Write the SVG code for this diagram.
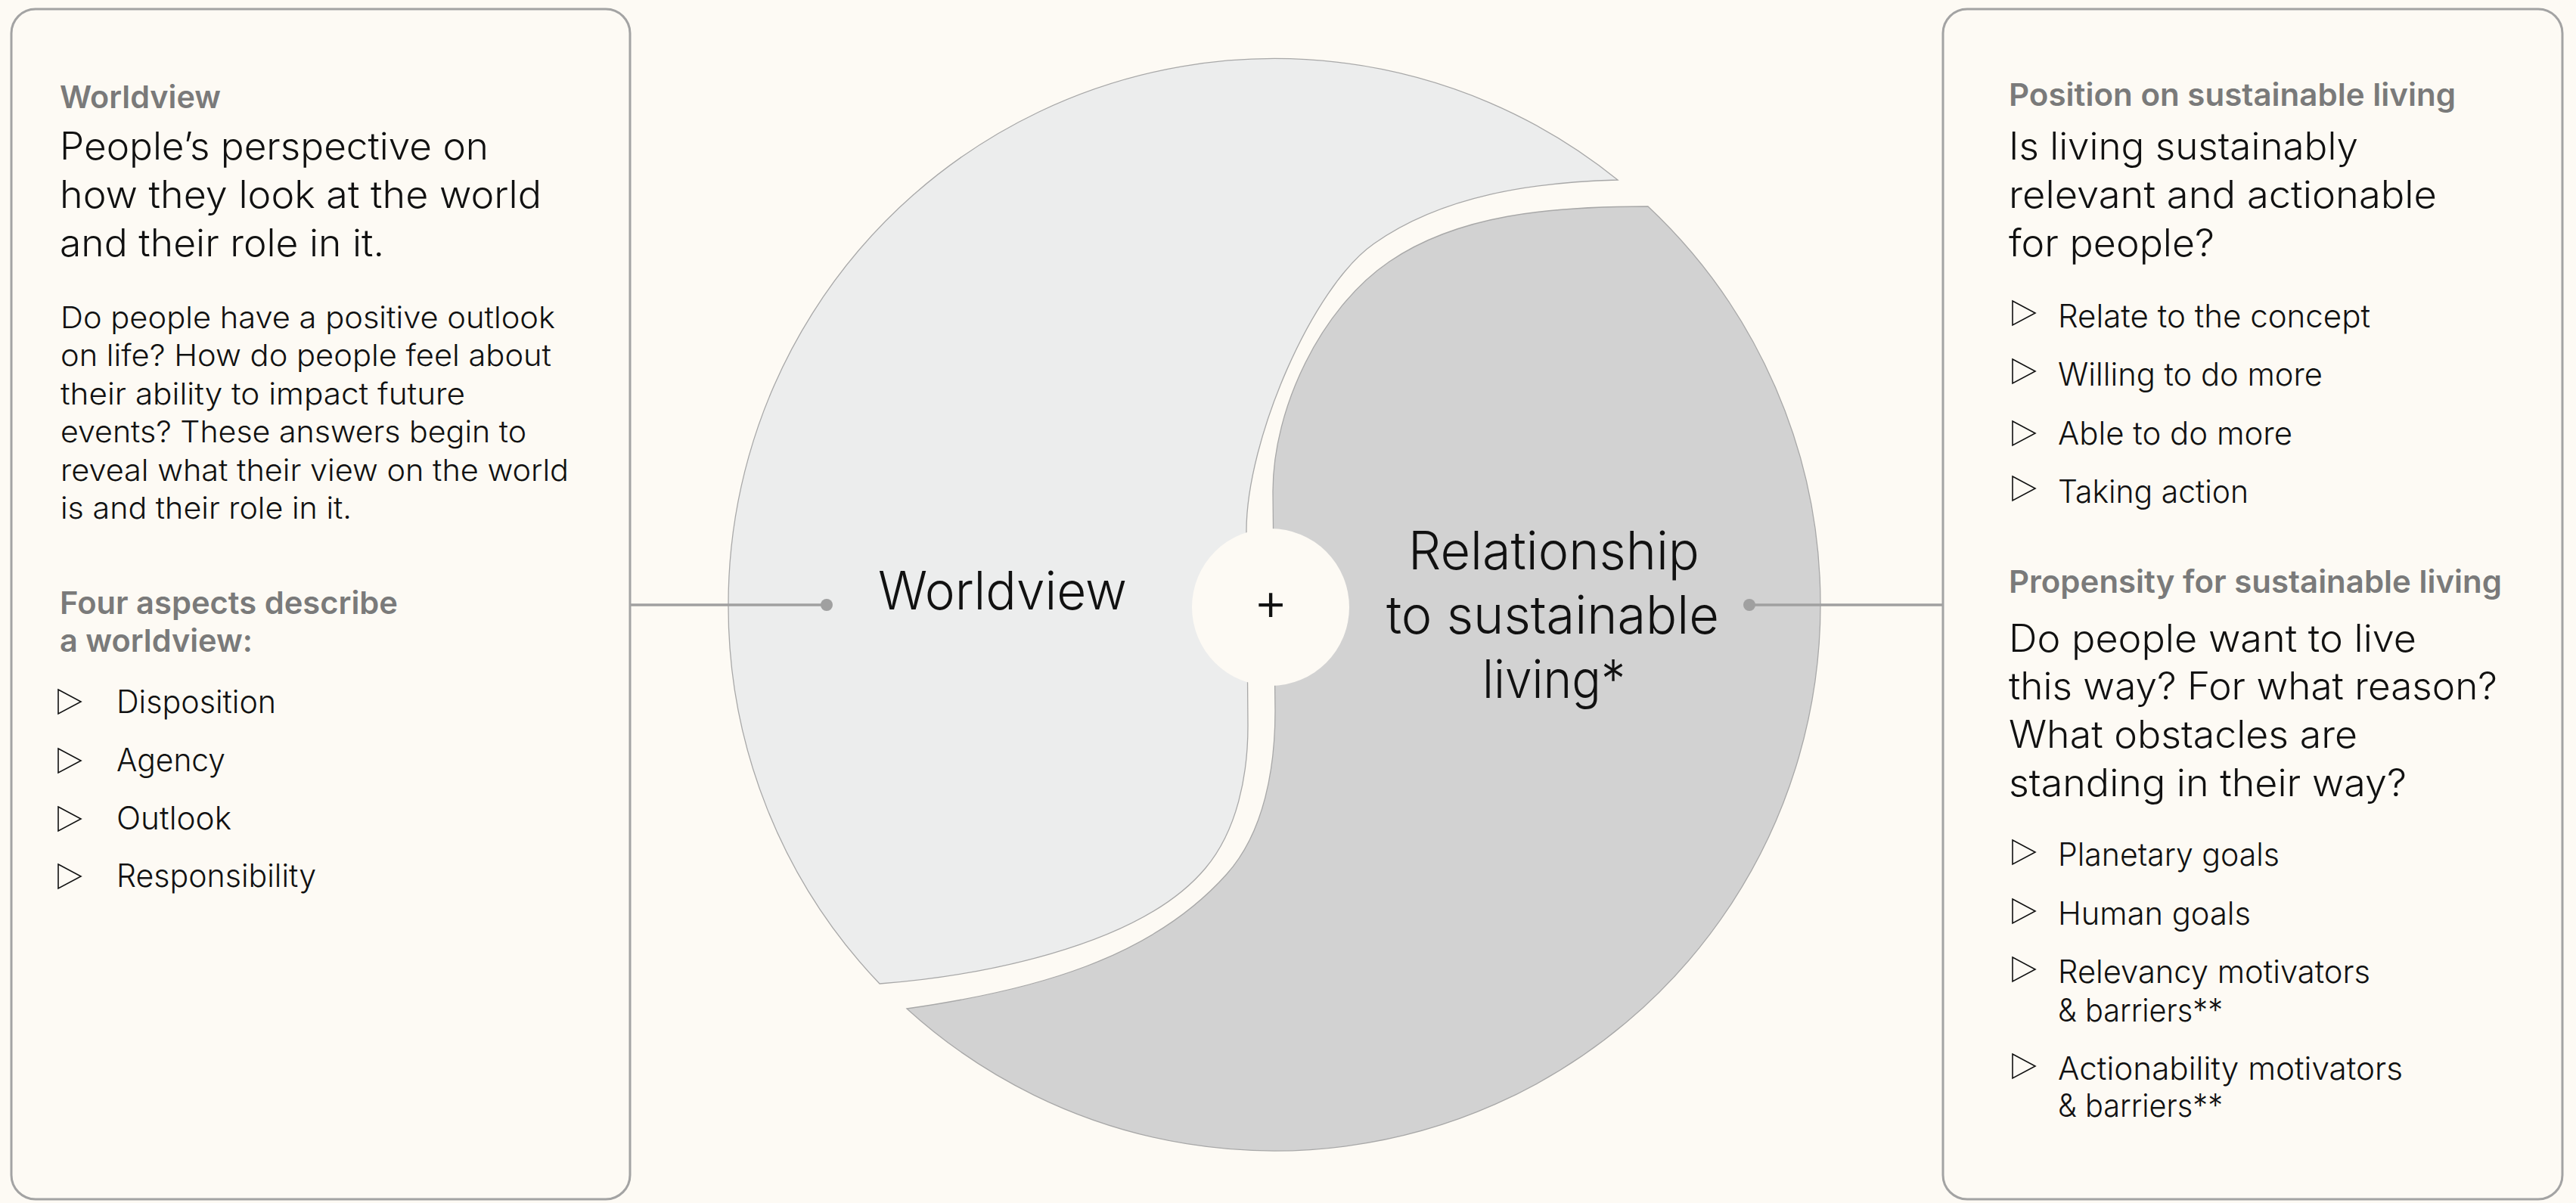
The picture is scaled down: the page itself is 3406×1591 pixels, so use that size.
<svg xmlns="http://www.w3.org/2000/svg" width="3406" height="1591" viewBox="0 0 3406 1591">
<style>
  .bg{fill:#FDFAF4}
  .panel{fill:#FDFAF4;stroke:#A3A3A3;stroke-width:3}
  text{font-family:Inter,"Liberation Sans",sans-serif}
  .lbl{font-weight:600;font-size:41px;fill:#7A7A7A}
  .head{font-weight:300;font-size:50px;fill:#111}
  .para{font-weight:300;font-size:40px;fill:#111}
  .item{font-weight:300;font-size:42px;fill:#111}
  .big{font-weight:300;font-size:70px;fill:#111}
  .tri{fill:none;stroke:#111;stroke-width:1.6;stroke-linejoin:miter}
  .shape{stroke:#A8A8A8;stroke-width:1.3}
  .conn{stroke:#A0A0A0;stroke-width:3.5;fill:none}
  .dot{fill:#A0A0A0}
</style>
<defs>
  <path id="tri" d="M0 0 L30 16 L0 32 Z"/>
</defs>
<rect class="bg" x="0" y="0" width="3406" height="1591"/>

<g id="node-worldview">
  <path class="shape" fill="#ECEDED" d="M 2139 238 C 2028 241 1908 258 1817 322 C 1735 379 1648 582 1648 702 L 1650 960 C 1650 1025 1636 1098 1594 1148 C 1504 1256 1280 1292 1163 1301 A 722 722 0 0 1 963 800 A 722 722 0 0 1 2139 238 Z"/>
  <text class="big" x="1161" y="806" textLength="329" lengthAdjust="spacingAndGlyphs">Worldview</text>
</g>

<g id="node-relationship">
  <path class="shape" fill="#D2D2D2" d="M 2179 273 A 722 722 0 0 1 2407 800 A 722 722 0 0 1 1199 1334 C 1367 1310 1522 1268 1622 1156 C 1672 1100 1686 1015 1686 940 L 1683 650 C 1683 540 1746 408 1837 346 C 1928 284 2049 273 2179 273 Z"/>
  <text class="big" x="1862" y="753" textLength="385" lengthAdjust="spacingAndGlyphs">Relationship</text>
  <text class="big" x="1833" y="838" textLength="440" lengthAdjust="spacingAndGlyphs">to sustainable</text>
  <text class="big" x="1960" y="923" textLength="189" lengthAdjust="spacingAndGlyphs">living*</text>
</g>

<g id="node-plus">
  <circle class="bg" cx="1680" cy="803" r="104"/>
  <text class="big" x="1680" y="820" text-anchor="middle" font-size="50">+</text>
</g>

<g id="connectors">
  <line class="conn" x1="833" y1="800" x2="1093" y2="800"/>
  <circle class="dot" cx="1093" cy="800" r="8"/>
  <line class="conn" x1="2313" y1="800" x2="2569" y2="800"/>
  <circle class="dot" cx="2313" cy="800" r="8"/>
</g>

<g id="node-left-panel">
  <rect class="panel" x="15" y="12" width="818" height="1574" rx="32"/>
  <text class="lbl" x="79" y="143" textLength="213" lengthAdjust="spacingAndGlyphs">Worldview</text>
  <text class="head" x="79" y="211" textLength="567" lengthAdjust="spacingAndGlyphs">People’s perspective on</text>
  <text class="head" x="79" y="275" textLength="637" lengthAdjust="spacingAndGlyphs">how they look at the world</text>
  <text class="head" x="79" y="339" textLength="429" lengthAdjust="spacingAndGlyphs">and their role in it.</text>
  <text class="para" x="80" y="434" textLength="654" lengthAdjust="spacingAndGlyphs">Do people have a positive outlook</text>
  <text class="para" x="80" y="484" textLength="649" lengthAdjust="spacingAndGlyphs">on life? How do people feel about</text>
  <text class="para" x="80" y="535" textLength="535" lengthAdjust="spacingAndGlyphs">their ability to impact future</text>
  <text class="para" x="80" y="585" textLength="616" lengthAdjust="spacingAndGlyphs">events? These answers begin to</text>
  <text class="para" x="80" y="636" textLength="672" lengthAdjust="spacingAndGlyphs">reveal what their view on the world</text>
  <text class="para" x="80" y="686" textLength="385" lengthAdjust="spacingAndGlyphs">is and their role in it.</text>
  <text class="lbl" x="79" y="812" textLength="447" lengthAdjust="spacingAndGlyphs">Four aspects describe</text>
  <text class="lbl" x="79" y="862" textLength="255" lengthAdjust="spacingAndGlyphs">a worldview:</text>
  <use href="#tri" class="tri" x="77" y="912"/>
  <text class="item" x="154" y="943" textLength="211" lengthAdjust="spacingAndGlyphs">Disposition</text>
  <use href="#tri" class="tri" x="77" y="990"/>
  <text class="item" x="154" y="1020" textLength="144" lengthAdjust="spacingAndGlyphs">Agency</text>
  <use href="#tri" class="tri" x="77" y="1067"/>
  <text class="item" x="154" y="1097" textLength="152" lengthAdjust="spacingAndGlyphs">Outlook</text>
  <use href="#tri" class="tri" x="77" y="1143"/>
  <text class="item" x="154" y="1173" textLength="264" lengthAdjust="spacingAndGlyphs">Responsibility</text>
</g>

<g id="node-right-panel">
  <rect class="panel" x="2569" y="12" width="819" height="1574" rx="32"/>
  <text class="lbl" x="2656" y="140" textLength="591" lengthAdjust="spacingAndGlyphs">Position on sustainable living</text>
  <text class="head" x="2656" y="211" textLength="462" lengthAdjust="spacingAndGlyphs">Is living sustainably</text>
  <text class="head" x="2656" y="275" textLength="566" lengthAdjust="spacingAndGlyphs">relevant and actionable</text>
  <text class="head" x="2656" y="339" textLength="272" lengthAdjust="spacingAndGlyphs">for people?</text>
  <use href="#tri" class="tri" x="2661" y="398"/>
  <text class="item" x="2721" y="433" textLength="413" lengthAdjust="spacingAndGlyphs">Relate to the concept</text>
  <use href="#tri" class="tri" x="2661" y="475"/>
  <text class="item" x="2721" y="510" textLength="350" lengthAdjust="spacingAndGlyphs">Willing to do more</text>
  <use href="#tri" class="tri" x="2661" y="557"/>
  <text class="item" x="2721" y="588" textLength="310" lengthAdjust="spacingAndGlyphs">Able to do more</text>
  <use href="#tri" class="tri" x="2661" y="630"/>
  <text class="item" x="2721" y="665" textLength="252" lengthAdjust="spacingAndGlyphs">Taking action</text>
  <text class="lbl" x="2656" y="784" textLength="652" lengthAdjust="spacingAndGlyphs">Propensity for sustainable living</text>
  <text class="head" x="2656" y="862" textLength="539" lengthAdjust="spacingAndGlyphs">Do people want to live</text>
  <text class="head" x="2656" y="925" textLength="646" lengthAdjust="spacingAndGlyphs">this way? For what reason?</text>
  <text class="head" x="2656" y="989" textLength="461" lengthAdjust="spacingAndGlyphs">What obstacles are</text>
  <text class="head" x="2656" y="1053" textLength="526" lengthAdjust="spacingAndGlyphs">standing in their way?</text>
  <use href="#tri" class="tri" x="2661" y="1111"/>
  <text class="item" x="2721" y="1145" textLength="293" lengthAdjust="spacingAndGlyphs">Planetary goals</text>
  <use href="#tri" class="tri" x="2661" y="1189"/>
  <text class="item" x="2721" y="1223" textLength="255" lengthAdjust="spacingAndGlyphs">Human goals</text>
  <use href="#tri" class="tri" x="2661" y="1266"/>
  <text class="item" x="2721" y="1300" textLength="413" lengthAdjust="spacingAndGlyphs">Relevancy motivators</text>
  <text class="item" x="2721" y="1351" textLength="218" lengthAdjust="spacingAndGlyphs">&amp; barriers**</text>
  <use href="#tri" class="tri" x="2661" y="1394"/>
  <text class="item" x="2721" y="1428" textLength="456" lengthAdjust="spacingAndGlyphs">Actionability motivators</text>
  <text class="item" x="2721" y="1477" textLength="218" lengthAdjust="spacingAndGlyphs">&amp; barriers**</text>
</g>
</svg>
